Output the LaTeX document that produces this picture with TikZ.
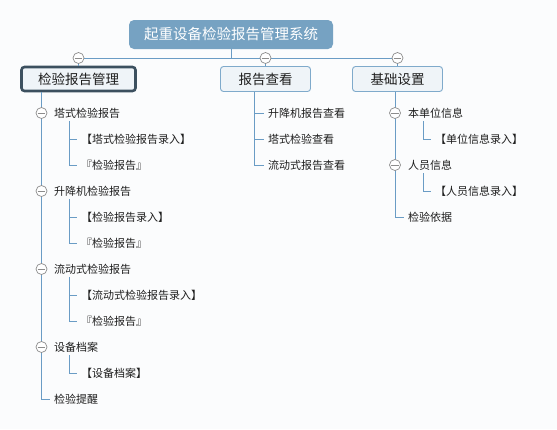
\documentclass[tikz,border=0pt]{standalone}
\usepackage{fontspec}
\setmainfont{Noto Sans CJK SC}
\usetikzlibrary{positioning}
\definecolor{rootblue}{HTML}{76A2C2}
\definecolor{linkblue}{HTML}{6A9CC5}
\definecolor{boxfill}{HTML}{EFF4F8}
\definecolor{boxedge}{HTML}{7FAACB}
\definecolor{darkedge}{HTML}{3C505F}
\definecolor{foldgray}{HTML}{8C8C8C}
\definecolor{textdark}{HTML}{1E1E1E}
\definecolor{paper}{HTML}{FBFCFD}
\tikzset{root node/.style={rectangle,rounded corners=5pt,fill=rootblue,text=white,minimum width=204pt,minimum height=29pt,inner sep=0pt,font=\fontsize{14.5}{17}\selectfont},}
\tikzset{main box/.style={rectangle,rounded corners=3pt,fill=boxfill,draw=boxedge,line width=0.9pt,minimum width=90pt,minimum height=25pt,inner sep=0pt,text=textdark,font=\fontsize{13.5}{15}\selectfont},}
\tikzset{item/.style={anchor=west,inner xsep=4pt,inner ysep=1pt,text=textdark,font=\fontsize{11}{13}\selectfont},}
\tikzset{fold/.style={circle,draw=foldgray,fill=white,line width=0.7pt,minimum size=11pt,inner sep=0pt,
  path picture={\draw[foldgray,line width=0.7pt] ([xshift=-3.8pt]path picture bounding box.center) -- ([xshift=3.8pt]path picture bounding box.center);}},}
\tikzset{link/.style={draw=linkblue,line width=1pt},}

\begin{document}
\begin{tikzpicture}[x=1pt,y=-1pt]
    \useasboundingbox[fill=paper] (0,0) rectangle (557,429);

    \node[root node] (root) at (231,34.5) {起重设备检验报告管理系统};
    \node[main box,draw=darkedge,line width=2.6pt,minimum width=114pt,minimum height=24pt] (check) at (78.5,79) {检验报告管理};
    \node[main box] (view) at (265.5,79) {报告查看};
    \node[main box] (base) at (397.5,79) {基础设置};

    % left branch
    \node[item] (tower) at (50,113) {塔式检验报告};
    \node[item] (towerin) at (77,139) {【塔式检验报告录入】};
    \node[item] (towerrep) at (77,165) {『检验报告』};
    \node[item] (lift) at (50,191) {升降机检验报告};
    \node[item] (liftin) at (77,217) {【检验报告录入】};
    \node[item] (liftrep) at (77,243) {『检验报告』};
    \node[item] (mobile) at (50,269) {流动式检验报告};
    \node[item] (mobilein) at (77,295) {【流动式检验报告录入】};
    \node[item] (mobilerep) at (77,321) {『检验报告』};
    \node[item] (file) at (50,347) {设备档案};
    \node[item] (filein) at (77,373) {【设备档案】};
    \node[item] (remind) at (50,399) {检验提醒};

    % middle branch
    \node[item] (vlift) at (264,113) {升降机报告查看};
    \node[item] (vtower) at (264,139) {塔式检验查看};
    \node[item] (vmobile) at (264,165) {流动式报告查看};

    % right branch
    \node[item] (unit) at (404,113) {本单位信息};
    \node[item] (unitin) at (431,139) {【单位信息录入】};
    \node[item] (staff) at (404,165) {人员信息};
    \node[item] (staffin) at (431,191) {【人员信息录入】};
    \node[item] (basis) at (404,217) {检验依据};

    % top links
    \coordinate (hub) at (231,58);
    \draw[link] (root.south) -- (hub);
    \draw[link] (hub) -| (check.north);
    \draw[link] (hub) -| (view.north);
    \draw[link] (hub) -| (base.north);
    \node[fold] at (check.north |- hub) {};
    \node[fold] at (view.north |- hub) {};
    \node[fold] at (base.north |- hub) {};

    % left links
    \coordinate (checkroot) at (41.5,92);
    \draw[link] (checkroot) |- (remind.west);
    \draw[link] ([xshift=19pt,yshift=-2pt]tower.south west) |- (towerin.west);
    \draw[link] ([xshift=19pt,yshift=-2pt]tower.south west) |- (towerrep.west);
    \draw[link] ([xshift=19pt,yshift=-2pt]lift.south west) |- (liftin.west);
    \draw[link] ([xshift=19pt,yshift=-2pt]lift.south west) |- (liftrep.west);
    \draw[link] ([xshift=19pt,yshift=-2pt]mobile.south west) |- (mobilein.west);
    \draw[link] ([xshift=19pt,yshift=-2pt]mobile.south west) |- (mobilerep.west);
    \draw[link] ([xshift=19pt,yshift=-2pt]file.south west) |- (filein.west);
    \node[fold] at (checkroot |- tower.west) {};
    \node[fold] at (checkroot |- lift.west) {};
    \node[fold] at (checkroot |- mobile.west) {};
    \node[fold] at (checkroot |- file.west) {};

    % middle links
    \coordinate (viewroot) at ([xshift=-11.5pt]view.south);
    \draw[link] (viewroot) |- (vmobile.west);
    \draw[link] (viewroot |- vlift.west) -- (vlift.west);
    \draw[link] (viewroot |- vtower.west) -- (vtower.west);

    % right links
    \coordinate (baseroot) at ([xshift=-2.5pt]base.south);
    \draw[link] (baseroot) |- (basis.west);
    \draw[link] ([xshift=19pt,yshift=-2pt]unit.south west) |- (unitin.west);
    \draw[link] ([xshift=19pt,yshift=-2pt]staff.south west) |- (staffin.west);
    \node[fold] at (baseroot |- unit.west) {};
    \node[fold] at (baseroot |- staff.west) {};
\end{tikzpicture}
\end{document}
